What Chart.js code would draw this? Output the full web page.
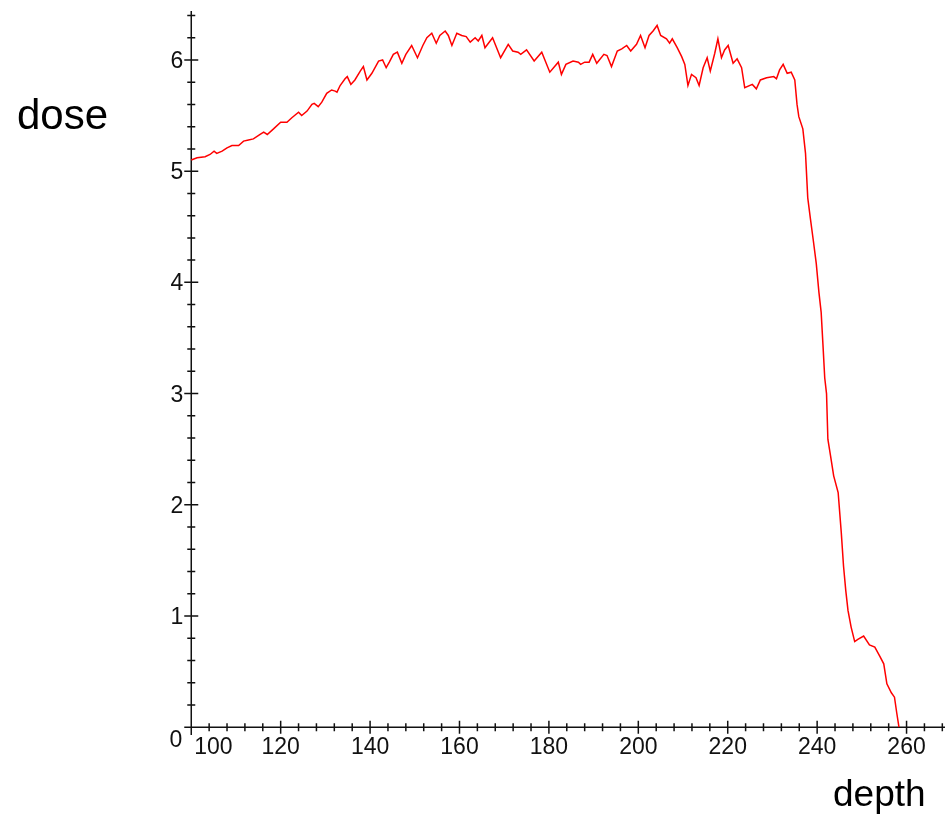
<!DOCTYPE html>
<html>
<head>
<meta charset="utf-8">
<title>dose vs depth</title>
<script src="https://cdn.jsdelivr.net/npm/chart.js@4.4.1/dist/chart.umd.min.js"></script>
<style>
  html, body { margin: 0; padding: 0; background: #ffffff; }
  #wrap { position: relative; width: 945px; height: 815px; }
  canvas { display: block; }
</style>
</head>
<body>
<div id="wrap"><canvas id="chart" width="945" height="815"></canvas></div>
<script>
// Depth-dose profile: depth positions and the dose measured at each one.
const depth = [
  100.0, 101.3, 103.1, 104.2, 105.1, 105.7, 106.9, 108.0, 109.1, 110.6,
  111.7, 112.8, 113.9, 115.4, 116.2, 117.0, 118.4, 120.0, 121.4, 122.5,
  124.0, 124.7, 125.9, 127.0, 127.5, 128.4, 129.2, 130.3, 131.4, 132.2,
  132.6, 133.3, 134.4, 134.9, 135.7, 136.6, 137.8, 138.5, 139.3, 140.4,
  141.9, 142.8, 143.6, 144.3, 145.2, 146.1, 147.1, 148.0, 149.3, 150.6,
  151.8, 152.7, 153.8, 154.8, 155.6, 156.8, 157.5, 158.3, 159.4, 160.5,
  161.5, 162.4, 163.5, 164.2, 165.0, 165.7, 167.4, 169.2, 170.9, 171.9,
  173.1, 173.7, 175.0, 176.7, 178.4, 180.2, 182.1, 182.8, 183.8, 185.4,
  186.6, 187.1, 188.0, 189.0, 189.8, 190.7, 192.3, 193.0, 194.0, 195.3,
  196.3, 197.4, 198.3, 199.6, 200.5, 201.5, 202.4, 203.3, 204.2, 205.0,
  206.3, 207.0, 207.6, 208.7, 209.7, 210.4, 211.1, 211.9, 212.9, 213.6,
  214.5, 215.4, 216.1, 217.1, 217.8, 218.6, 219.3, 220.1, 221.2, 222.1,
  223.1, 223.8, 225.5, 226.4, 227.3, 228.7, 230.3, 230.9, 231.6, 232.4,
  233.3, 234.2, 235.0, 235.5, 235.9, 236.8, 237.4, 237.9, 238.5, 239.1,
  239.8, 240.4, 240.9, 241.3, 241.7, 242.1, 242.4, 243.0, 243.7, 244.7,
  245.4, 245.9, 246.4, 246.9, 247.6, 248.4, 249.1, 250.4, 251.7, 252.9,
  254.0, 254.9, 255.6, 256.6, 257.3, 257.8, 258.3
];
const dose = [
  5.10, 5.12, 5.13, 5.15, 5.18, 5.16, 5.18, 5.21, 5.23, 5.23,
  5.27, 5.28, 5.29, 5.33, 5.35, 5.33, 5.38, 5.44, 5.44, 5.48,
  5.53, 5.50, 5.54, 5.60, 5.61, 5.58, 5.62, 5.70, 5.73, 5.72,
  5.71, 5.77, 5.83, 5.85, 5.78, 5.82, 5.90, 5.94, 5.82, 5.88,
  5.99, 6.00, 5.93, 5.98, 6.05, 6.07, 5.97, 6.05, 6.13, 6.02,
  6.13, 6.20, 6.24, 6.15, 6.22, 6.26, 6.22, 6.13, 6.24, 6.22,
  6.21, 6.16, 6.20, 6.17, 6.22, 6.11, 6.20, 6.02, 6.14, 6.08,
  6.07, 6.05, 6.09, 5.99, 6.07, 5.89, 5.98, 5.87, 5.96, 5.99,
  5.98, 5.96, 5.98, 5.98, 6.05, 5.97, 6.05, 6.04, 5.94, 6.08,
  6.10, 6.13, 6.08, 6.14, 6.22, 6.11, 6.22, 6.26, 6.31, 6.22,
  6.19, 6.15, 6.19, 6.11, 6.03, 5.96, 5.77, 5.87, 5.84, 5.77,
  5.93, 6.02, 5.90, 6.06, 6.19, 6.02, 6.09, 6.13, 5.97, 6.01,
  5.93, 5.75, 5.78, 5.74, 5.82, 5.84, 5.85, 5.83, 5.91, 5.96,
  5.88, 5.89, 5.82, 5.60, 5.49, 5.38, 5.16, 4.76, 4.57, 4.39,
  4.17, 3.91, 3.73, 3.44, 3.14, 3.00, 2.59, 2.44, 2.26, 2.11,
  1.75, 1.45, 1.23, 1.05, 0.90, 0.77, 0.79, 0.82, 0.74, 0.72,
  0.64, 0.57, 0.39, 0.31, 0.27, 0.13, 0.00
];

// Axis ticks
const xMajorTicks = [100, 120, 140, 160, 180, 200, 220, 240, 260];
const yMajorTicks = [0, 1, 2, 3, 4, 5, 6];
const xMinorStep = 4;
const yMinorStep = 0.2;

const xLabel = 'depth';
const yLabel = 'dose';

// Axes drawn through the origin (x = 100, y = 0), with ticks crossing the axis line.
const crossAxes = {
  id: 'crossAxes',
  beforeDatasetsDraw(chart) {
    const { ctx, scales: { x, y } } = chart;
    const x0 = x.getPixelForValue(100);
    const y0 = y.getPixelForValue(0);
    const left = x.getPixelForValue(x.min);
    const right = x.getPixelForValue(x.max);
    const top = y.getPixelForValue(6.44);
    const bottom = y.getPixelForValue(y.min);

    ctx.save();
    ctx.strokeStyle = '#111';
    ctx.lineWidth = 1.5;
    ctx.beginPath();
    ctx.moveTo(left, y0); ctx.lineTo(right, y0);
    ctx.moveTo(x0, top); ctx.lineTo(x0, bottom);

    // x ticks
    for (let v = 100; v <= x.max; v += xMinorStep) {
      const px = x.getPixelForValue(v);
      const major = xMajorTicks.includes(Math.round(v));
      const h = major ? 6.5 : 4;
      ctx.moveTo(px, y0 - h); ctx.lineTo(px, y0 + h);
    }
    // y ticks
    for (let i = 0; i * yMinorStep <= 6.41; i++) {
      const v = i * yMinorStep;
      const py = y.getPixelForValue(v);
      const major = i % 5 === 0;
      const w = major ? 7 : 4;
      ctx.moveTo(x0 - w, py); ctx.lineTo(x0 + w, py);
    }
    ctx.stroke();

    // tick labels
    ctx.fillStyle = '#111';
    ctx.font = '23px "Liberation Sans", Arial, sans-serif';
    ctx.textBaseline = 'alphabetic';
    xMajorTicks.forEach(v => {
      const px = x.getPixelForValue(v);
      if (v === 100) {
        ctx.textAlign = 'left';
        ctx.fillText(String(v), px + 3, y0 + 27);
      } else {
        ctx.textAlign = 'center';
        ctx.fillText(String(v), px, y0 + 27);
      }
    });
    ctx.textAlign = 'right';
    yMajorTicks.forEach(v => {
      const py = y.getPixelForValue(v);
      if (v === 0) {
        ctx.fillText(String(v), x0 - 9, py + 20);
      } else {
        ctx.fillText(String(v), x0 - 8, py + 8);
      }
    });

    // axis titles
    ctx.fillStyle = '#000';
    ctx.textAlign = 'left';
    ctx.font = '42px "Liberation Sans", Arial, sans-serif';
    ctx.fillText(yLabel, 17, 129);
    ctx.font = '37px "Liberation Sans", Arial, sans-serif';
    ctx.fillText(xLabel, 833, 806);
    ctx.restore();
  }
};

new Chart(document.getElementById('chart'), {
  type: 'line',
  data: {
    datasets: [{
      label: yLabel,
      data: depth.map((d, i) => ({ x: d, y: dose[i] })),
      borderColor: '#ff0000',
      borderWidth: 1.5,
      pointRadius: 0,
      tension: 0,
      fill: false
    }]
  },
  options: {
    responsive: false,
    animation: false,
    layout: { padding: { left: 185, right: 0, top: 11, bottom: 80 } },
    plugins: { legend: { display: false }, tooltip: { enabled: false } },
    scales: {
      x: { type: 'linear', min: 98.6, max: 268.6, display: false },
      y: { type: 'linear', min: -0.07, max: 6.44, display: false }
    }
  },
  plugins: [crossAxes]
});
</script>
</body>
</html>
